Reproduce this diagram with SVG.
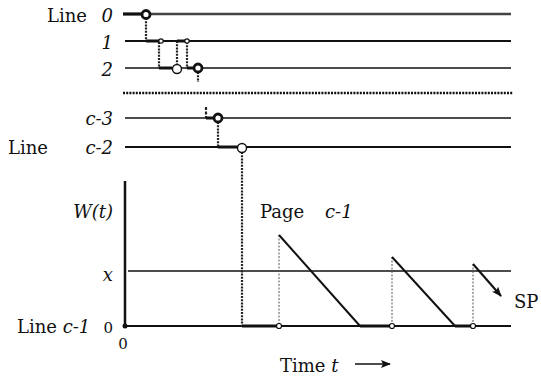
<svg xmlns="http://www.w3.org/2000/svg" width="541" height="377" viewBox="0 0 541 377">
<defs>
<marker id="ah" markerWidth="10" markerHeight="8" refX="9" refY="4" orient="auto" markerUnits="userSpaceOnUse">
<path d="M0,0 L10,4 L0,8 L2,4 z" fill="#111"/>
</marker>
</defs>
<style>
.it{font-style:italic}
.ln{stroke:#111;fill:none}
.dd{stroke:#222;stroke-width:2.2;stroke-dasharray:2 1.2;fill:none}
.gd{stroke:#555;stroke-width:1;stroke-dasharray:2 1.5;fill:none}
.seg{stroke:#111;stroke-width:3;fill:none}
.bc{fill:#fff;stroke:#111;stroke-width:2.8}
.oc{fill:#fff;stroke:#111;stroke-width:1.4}
.sd{fill:#fff;stroke:#111;stroke-width:1.2}
</style>
<g id="labels" font-family="DejaVu Serif, Liberation Serif, serif" font-size="18" fill="#111">
<text x="47" y="22">Line</text>
<text class="it" x="113" y="22" text-anchor="end">0</text>
<text class="it" x="113" y="49" text-anchor="end">1</text>
<text class="it" x="113" y="76" text-anchor="end">2</text>
<text class="it" x="113" y="125" text-anchor="end">c-3</text>
<text x="8" y="154">Line</text>
<text class="it" x="113" y="154" text-anchor="end">c-2</text>
<text class="it" x="113" y="218" text-anchor="end">W(t)</text>
<text class="it" x="113" y="281" text-anchor="end">x</text>
<text x="17" y="333">Line <tspan class="it">c-1</tspan></text>
<text x="113" y="333" text-anchor="end" font-size="15">0</text>
<text x="123" y="349" text-anchor="middle" font-size="15">0</text>
<text x="260" y="218">Page</text>
<text class="it" x="325" y="218">c-1</text>
<text x="514" y="308">SP</text>
<text x="280" y="372">Time <tspan class="it">t</tspan></text>
</g>
<g id="lines">
<line class="ln" x1="123" y1="14" x2="511" y2="14" stroke-width="2.4" style="stroke:#444"/>
<line class="ln" x1="125" y1="41" x2="511" y2="41" stroke-width="2"/>
<line class="ln" x1="125" y1="68" x2="511" y2="68" stroke-width="1.4"/>
<line x1="123" y1="93" x2="513" y2="93" stroke="#111" stroke-width="2.6" stroke-dasharray="2 1.2"/>
<line class="ln" x1="125" y1="118" x2="511" y2="118" stroke-width="1.4"/>
<line class="ln" x1="125" y1="147" x2="511" y2="147" stroke-width="2"/>
</g>
<g id="axes">
<line class="ln" x1="125" y1="181" x2="125" y2="326" stroke-width="2.5"/>
<line class="ln" x1="128" y1="271" x2="511" y2="271" stroke-width="1.4"/>
<line class="ln" x1="125" y1="326" x2="511" y2="326" stroke-width="2.2"/>
<circle cx="125" cy="326" r="2.5" fill="#111"/>
<line class="ln" x1="355" y1="364" x2="390" y2="364" stroke-width="1.4" marker-end="url(#ah)"/>
</g>
<g id="connectors">
<line class="seg" x1="123" y1="14" x2="142" y2="14"/>
<line class="dd" x1="146" y1="18" x2="146" y2="41"/>
<line class="seg" x1="146" y1="41" x2="160" y2="41"/>
<line class="dd" x1="159" y1="42" x2="159" y2="68"/>
<line class="seg" x1="159" y1="68" x2="172" y2="68"/>
<line class="dd" x1="177" y1="41" x2="177" y2="64"/>
<line class="seg" x1="177" y1="41" x2="187" y2="41"/>
<line class="dd" x1="187" y1="42" x2="187" y2="68"/>
<line class="seg" x1="187" y1="68" x2="194" y2="68"/>
<line class="dd" x1="198" y1="72" x2="198" y2="82"/>
<line class="dd" x1="206" y1="107" x2="206" y2="118" style="stroke-dasharray:3 1.5"/>
<line class="seg" x1="206" y1="118" x2="214" y2="118"/>
<line class="dd" x1="218" y1="122" x2="218" y2="147"/>
<line class="seg" x1="218" y1="147" x2="238" y2="147"/>
<line class="dd" x1="242" y1="152" x2="242" y2="326"/>
<line class="seg" x1="242" y1="326" x2="279" y2="326"/>
<line class="seg" x1="360" y1="326" x2="392" y2="326"/>
<line class="seg" x1="455" y1="326" x2="473" y2="326"/>
</g>
<g id="events">
<circle class="bc" cx="146" cy="14.5" r="4"/>
<circle class="sd" cx="161" cy="41" r="2.2"/>
<circle class="sd" cx="187" cy="41" r="2.2"/>
<circle class="oc" cx="177" cy="69" r="4.5"/>
<circle class="bc" cx="198" cy="68" r="4"/>
<circle class="bc" cx="218" cy="118" r="4"/>
<circle class="oc" cx="242" cy="148" r="4.5"/>
</g>
<g id="sawtooth">
<line class="gd" x1="279" y1="235" x2="279" y2="326"/>
<line class="gd" x1="392" y1="257" x2="392" y2="326"/>
<line class="gd" x1="473" y1="264" x2="473" y2="326"/>
<line class="ln" x1="279" y1="235" x2="360" y2="326" stroke-width="2"/>
<line class="ln" x1="392" y1="257" x2="455" y2="326" stroke-width="2"/>
<line class="ln" x1="473" y1="264" x2="501" y2="296" stroke-width="2" marker-end="url(#ah)"/>
<circle class="sd" cx="279" cy="326" r="2.5"/>
<circle class="sd" cx="392" cy="326" r="2.5"/>
<circle class="sd" cx="473" cy="326" r="2.5"/>
</g>
</svg>
